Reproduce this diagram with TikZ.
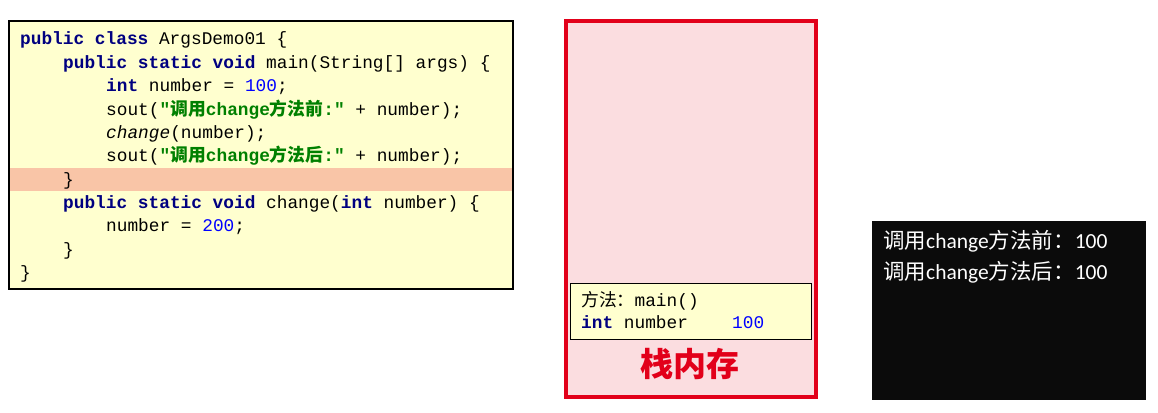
\documentclass[tikz,border=0pt]{standalone}
\usepackage{fontspec}
\setmonofont{Liberation Mono}
\newfontfamily\cjk{Noto Sans CJK SC}
\newfontfamily\consolefont{Carlito}

\definecolor{codebg}{HTML}{FFFFCF}
\definecolor{rowmark}{HTML}{F9C5A7}
\definecolor{stackbg}{HTML}{FBDDE0}
\definecolor{stackred}{HTML}{E2001A}
\definecolor{kwnavy}{HTML}{000080}
\definecolor{numblue}{HTML}{0000FF}
\definecolor{strgreen}{HTML}{008000}
\definecolor{consolebg}{HTML}{0B0B0B}

\newcommand{\kw}[1]{\textcolor{kwnavy}{\bfseries #1}}
\newcommand{\nm}[1]{\textcolor{numblue}{#1}}
\newcommand{\strlit}[1]{\textcolor{strgreen}{\bfseries #1}}
\newcommand{\zh}[1]{{\cjk #1}}

\tikzset{
  codeline/.style={anchor=base west,inner sep=0pt,
    font=\ttfamily\fontsize{17.8}{22}\selectfont},
  outline/.style={anchor=base west,inner sep=0pt,text=white,
    font=\consolefont\fontsize{21.5}{26}\selectfont},
}

\begin{document}
\begin{tikzpicture}[x=1pt,y=-1pt]
    \useasboundingbox (0,0) rectangle (1158,412);

    % source code
    \draw[fill=codebg,line width=1.2pt] (9,21) rectangle (513,289);
    \fill[rowmark] (10,168) rectangle (512,191);
    \node[codeline] (l1)  at (20,45)    {\kw{public class} ArgsDemo01 \{};
    \node[codeline] (l2)  at (63,68.3)  {\kw{public static void} main(String[] args) \{};
    \node[codeline] (l3)  at (106,91.6) {\kw{int} number = \nm{100};};
    \node[codeline] (l4)  at (106,115)  {sout(\strlit{"\zh{调用}change\zh{方法前}:"} + number);};
    \node[codeline] (l5)  at (106,138.3){\textit{change}(number);};
    \node[codeline] (l6)  at (106,161.6){sout(\strlit{"\zh{调用}change\zh{方法后}:"} + number);};
    \node[codeline] (l7)  at (63,185)   {\}};
    \node[codeline] (l8)  at (63,208.3) {\kw{public static void} change(\kw{int} number) \{};
    \node[codeline] (l9)  at (106,231.6){number = \nm{200};};
    \node[codeline] (l10) at (63,255)   {\}};
    \node[codeline] (l11) at (20,278.3) {\}};

    % stack memory
    \draw[stackred,fill=stackbg,line width=4pt] (565.5,21.5) rectangle (815.5,396.5);
    \draw[fill=codebg,line width=1pt] (570,283) rectangle (811,339);
    \node[codeline] (frame)  at (581,306) {\zh{方法：}main()};
    \node[codeline] (var)    at (581,328) {\kw{int} number};
    \node[codeline] (val)    at (732,328) {\nm{100}};
    \node[text=stackred,inner sep=0pt,font=\cjk\bfseries\fontsize{33}{36}\selectfont]
        (stack) at (690,364) {栈内存};

    % console output
    \fill[consolebg] (872,221) rectangle (1146,400);
    \node[outline] (out1) at (883,248) {\zh{调用}change\zh{方法前：}100};
    \node[outline] (out2) at (883,279) {\zh{调用}change\zh{方法后：}100};
\end{tikzpicture}
\end{document}
